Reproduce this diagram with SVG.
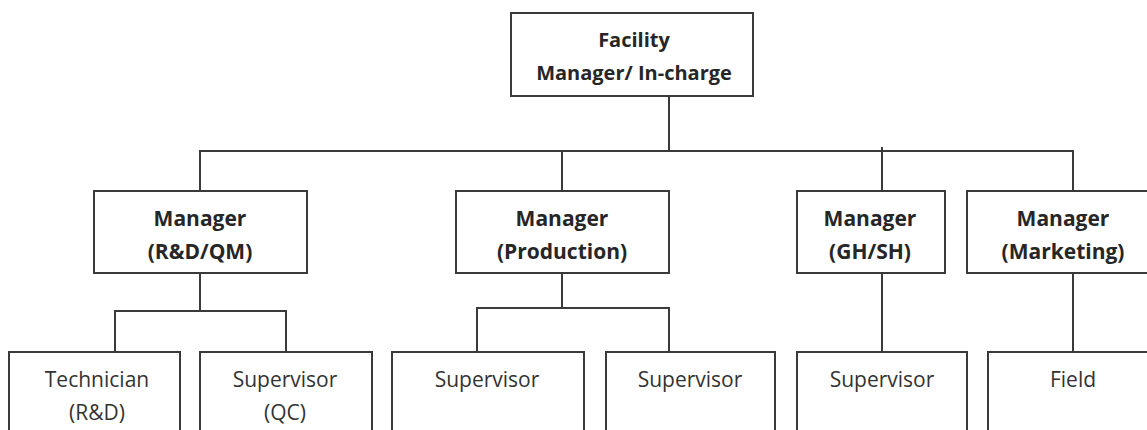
<svg xmlns="http://www.w3.org/2000/svg" width="1147" height="430" viewBox="0 0 1147 430">
  <style>
    .box { fill: #ffffff; stroke: #3a3a3a; stroke-width: 2; }
    .wire { fill: none; stroke: #3a3a3a; stroke-width: 2; }
    text { font-family: "Open Sans", "Noto Sans", sans-serif; font-size: 21px; fill: #262626; text-anchor: middle; }
    .head { font-weight: bold; }
    .top { font-size: 20px; }
    .staff { fill: #333333; }
  </style>
  <rect width="1147" height="430" fill="#ffffff"/>

  <!-- connectors -->
  <g id="connectors">
    <path class="wire" d="M669 96 V151"/>
    <path class="wire" d="M200 191 V151 H1073 V191"/>
    <path class="wire" d="M562 151 V191"/>
    <path class="wire" d="M882 147 V191"/>
    <path class="wire" d="M200 273 V311"/>
    <path class="wire" d="M115 352 V311 H286 V352"/>
    <path class="wire" d="M562 273 V308"/>
    <path class="wire" d="M477 352 V308 H669 V352"/>
    <path class="wire" d="M882 273 V352"/>
    <path class="wire" d="M1073 273 V352"/>
  </g>

  <!-- top level -->
  <g id="facility-manager">
    <rect class="box" x="511" y="13" width="242" height="83"/>
    <text class="head top" x="634" y="47">Facility</text>
    <text class="head top" x="634" y="80">Manager/ In-charge</text>
  </g>

  <!-- managers -->
  <g id="manager-rd-qm">
    <rect class="box" x="94" y="191" width="213" height="82"/>
    <text class="head" x="200" y="226">Manager</text>
    <text class="head" x="200" y="259">(R&amp;D/QM)</text>
  </g>
  <g id="manager-production">
    <rect class="box" x="456" y="191" width="213" height="82"/>
    <text class="head" x="562" y="226">Manager</text>
    <text class="head" x="562" y="259">(Production)</text>
  </g>
  <g id="manager-gh-sh">
    <rect class="box" x="797" y="191" width="148" height="82"/>
    <text class="head" x="870" y="226">Manager</text>
    <text class="head" x="870" y="259">(GH/SH)</text>
  </g>
  <g id="manager-marketing">
    <rect class="box" x="967" y="191" width="193" height="82"/>
    <text class="head" x="1063" y="226">Manager</text>
    <text class="head" x="1063" y="259">(Marketing)</text>
  </g>

  <!-- staff -->
  <g id="technician-rd">
    <rect class="box" x="9" y="352" width="171" height="100"/>
    <text class="staff" x="97" y="387">Technician</text>
    <text class="staff" x="97" y="420">(R&amp;D)</text>
  </g>
  <g id="supervisor-qc">
    <rect class="box" x="200" y="352" width="172" height="100"/>
    <text class="staff" x="285" y="387">Supervisor</text>
    <text class="staff" x="285" y="420">(QC)</text>
  </g>
  <g id="supervisor-production-1">
    <rect class="box" x="392" y="352" width="192" height="100"/>
    <text class="staff" x="487" y="387">Supervisor</text>
  </g>
  <g id="supervisor-production-2">
    <rect class="box" x="606" y="352" width="169" height="100"/>
    <text class="staff" x="690" y="387">Supervisor</text>
  </g>
  <g id="supervisor-gh-sh">
    <rect class="box" x="797" y="352" width="170" height="100"/>
    <text class="staff" x="882" y="387">Supervisor</text>
  </g>
  <g id="field">
    <rect class="box" x="988" y="352" width="172" height="100"/>
    <text class="staff" x="1073" y="387">Field</text>
  </g>
</svg>
